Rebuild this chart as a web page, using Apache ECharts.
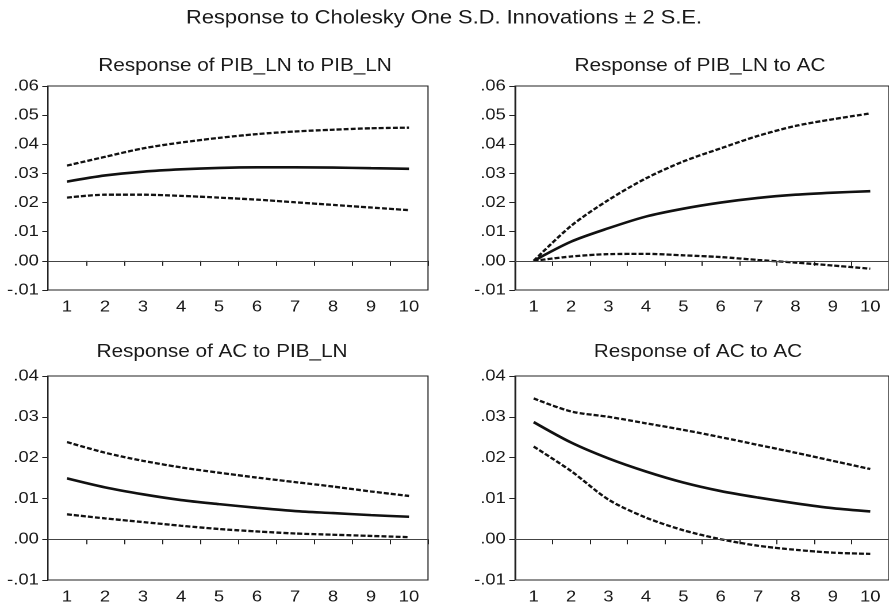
<!DOCTYPE html>
<html>
<head>
<meta charset="utf-8">
<script src="https://cdn.jsdelivr.net/npm/echarts@6/dist/echarts.min.js"></script>
<style>
  html, body { margin: 0; padding: 0; background: #fff; overflow: hidden; }
  #wrap { width: 889px; height: 605px; overflow: hidden; position: relative; }
  #chart { position: absolute; left: 0; top: 0; height: 605px; transform-origin: 0 0; }
</style>
</head>
<body>
<div id="wrap"><div id="chart"></div></div>
<script>
// Impulse-response horizon
const periods = ['1', '2', '3', '4', '5', '6', '7', '8', '9', '10'];

// Response of PIB_LN to PIB_LN
const pibPibResp  = [0.0272, 0.0293, 0.0306, 0.0314, 0.0319, 0.0321, 0.0321, 0.0320, 0.0318, 0.0316];
const pibPibUpper = [0.0327, 0.0357, 0.0386, 0.0406, 0.0422, 0.0435, 0.0444, 0.0450, 0.0455, 0.0457];
const pibPibLower = [0.0217, 0.0227, 0.0227, 0.0223, 0.0217, 0.0210, 0.0201, 0.0192, 0.0183, 0.0174];

// Response of PIB_LN to AC
const pibAcResp  = [0.0000, 0.0066, 0.0112, 0.0152, 0.0179, 0.0200, 0.0216, 0.0227, 0.0234, 0.0239];
const pibAcUpper = [0.0000, 0.0120, 0.0209, 0.0283, 0.0341, 0.0386, 0.0429, 0.0463, 0.0486, 0.0506];
const pibAcLower = [0.0000, 0.0015, 0.0023, 0.0024, 0.0019, 0.0013, 0.0003, -0.0006, -0.0016, -0.0027];

// Response of AC to PIB_LN
const acPibResp  = [0.0149, 0.0127, 0.0110, 0.0096, 0.0086, 0.0077, 0.0069, 0.0064, 0.0059, 0.0055];
const acPibUpper = [0.0238, 0.0212, 0.0192, 0.0176, 0.0163, 0.0151, 0.0140, 0.0129, 0.0117, 0.0106];
const acPibLower = [0.0061, 0.0051, 0.0042, 0.0033, 0.0025, 0.0019, 0.0014, 0.0011, 0.0008, 0.0005];

// Response of AC to AC
const acAcResp  = [0.0287, 0.0237, 0.0198, 0.0166, 0.0139, 0.0118, 0.0102, 0.0088, 0.0076, 0.0068];
const acAcUpper = [0.0345, 0.0313, 0.0300, 0.0284, 0.0268, 0.0250, 0.0231, 0.0212, 0.0192, 0.0172];
const acAcLower = [0.0227, 0.0167, 0.0097, 0.0053, 0.0022, 0.0000, -0.0016, -0.0026, -0.0033, -0.0036];

// Y axis extents per row
const topRowMax = 0.06, bottomRowMax = 0.04, axisMin = -0.01, axisStep = 0.01;

const mainTitle = 'Response to Cholesky One S.D. Innovations \u00B1 2 S.E.';
const panelTitles = ['Response of PIB_LN to PIB_LN', 'Response of PIB_LN to AC',
                     'Response of AC to PIB_LN', 'Response of AC to AC'];

// The whole figure is drawn in a narrower frame and widened horizontally.
const SX = 1.15;
const W = 889 / SX;
const el = document.getElementById('chart');
el.style.width = W + 'px';
el.style.transform = 'scaleX(' + SX + ')';

const FONT = "'Liberation Sans', Arial, sans-serif";
const INK = '#1a1a1a';

const panels = [
  { resp: pibPibResp, up: pibPibUpper, lo: pibPibLower, max: topRowMax,    left: 48,  top: 86,  tx: 245, ty: 66 },
  { resp: pibAcResp,  up: pibAcUpper,  lo: pibAcLower,  max: topRowMax,    left: 515, top: 86,  tx: 700, ty: 66 },
  { resp: acPibResp,  up: acPibUpper,  lo: acPibLower,  max: bottomRowMax, left: 48,  top: 376, tx: 222, ty: 352 },
  { resp: acAcResp,   up: acAcUpper,   lo: acAcLower,   max: bottomRowMax, left: 515, top: 376, tx: 698, ty: 352 }
];

function tickText(v) {
  const r = Math.round(v * 100);
  const body = (Math.abs(r) / 100).toFixed(2).replace(/^0/, '');
  return (r < 0 ? '-' : '') + body;
}

const grids = [], xAxes = [], yAxes = [], series = [], graphics = [];

graphics.push({
  type: 'text', x: 444 / SX, y: 18.5,
  style: { text: mainTitle, font: '19px ' + FONT, fill: INK, textAlign: 'center', textVerticalAlign: 'middle' }
});

panels.forEach((p, i) => {
  grids.push({
    left: p.left / SX, top: p.top, width: 380 / SX, height: 204,
    show: true, borderColor: '#222', borderWidth: 1, backgroundColor: 'transparent'
  });
  xAxes.push({
    type: 'category', gridIndex: i, data: periods, boundaryGap: true,
    axisLine: { show: true, lineStyle: { color: '#222', width: 1 } },
    axisTick: { show: true, inside: false, length: 5, lineStyle: { color: '#222' } },
    axisLabel: { fontSize: 16, fontFamily: FONT, color: INK, margin: 9 },
    splitLine: { show: false }
  });
  yAxes.push({
    type: 'value', gridIndex: i, min: axisMin, max: p.max, interval: axisStep,
    axisLine: { show: true, lineStyle: { color: '#222', width: 1 } },
    axisTick: { show: true, inside: false, length: 5, lineStyle: { color: '#222' } },
    axisLabel: { fontSize: 16, fontFamily: FONT, color: INK, margin: 8, formatter: tickText },
    splitLine: { show: false }
  });
  series.push({
    type: 'line', xAxisIndex: i, yAxisIndex: i, data: p.resp,
    smooth: 0.3, symbol: 'none', z: 3,
    lineStyle: { color: '#111', width: 2.6, type: 'solid' },
    markLine: {
      silent: true, symbol: 'none', animation: false,
      label: { show: false },
      lineStyle: { color: '#444', width: 1, type: 'solid' },
      data: [{ yAxis: 0 }]
    }
  });
  [p.up, p.lo].forEach(band => {
    series.push({
      type: 'line', xAxisIndex: i, yAxisIndex: i, data: band,
      smooth: 0.3, symbol: 'none', z: 2,
      lineStyle: { color: '#111', width: 2.3, type: [4.3, 1.8], cap: 'butt' }
    });
  });
  graphics.push({
    type: 'text', x: p.tx / SX, y: p.ty,
    style: { text: panelTitles[i], font: '18px ' + FONT, fill: INK, textAlign: 'center', textVerticalAlign: 'middle' }
  });
});

const chart = echarts.init(el, null, { renderer: 'canvas', devicePixelRatio: 2 });
chart.setOption({
  animation: false,
  backgroundColor: '#fff',
  textStyle: { fontFamily: FONT },
  grid: grids,
  xAxis: xAxes,
  yAxis: yAxes,
  series: series,
  graphic: graphics
});
</script>
</body>
</html>
